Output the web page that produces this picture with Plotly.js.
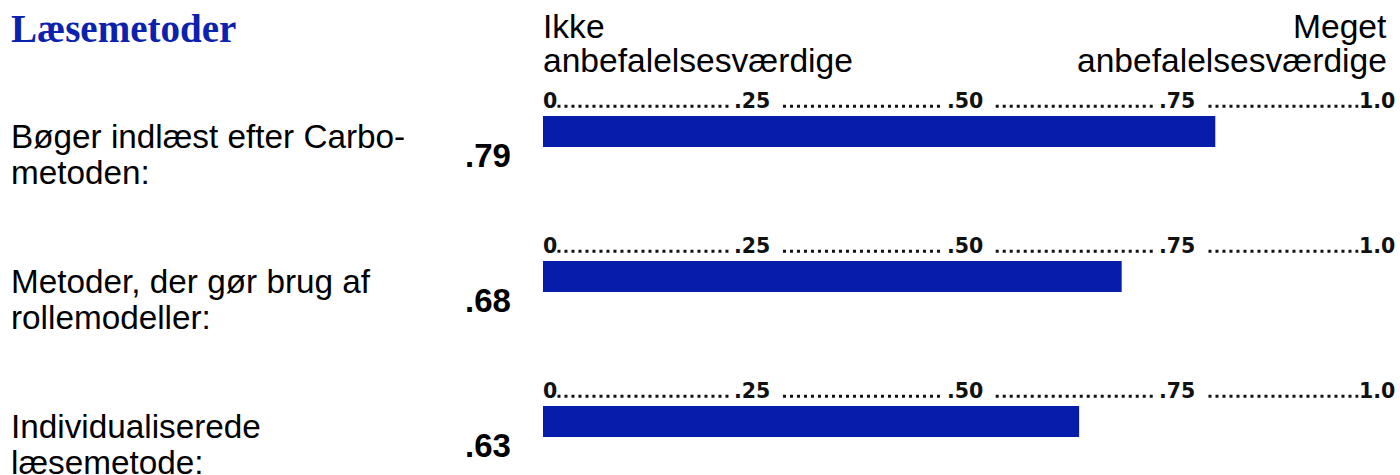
<!DOCTYPE html>
<html><head><meta charset="utf-8">
<script src="https://cdn.plot.ly/plotly-3.0.1.min.js"></script>
<style>html,body{margin:0;padding:0;background:#fff;}#chart{width:1400px;height:475px;}</style>
</head><body><div id="chart"></div>
<script>
// ---- data ----
const chartTitle = 'Læsemetoder';
const categories = ['Bøger indlæst efter Carbo-metoden', 'Metoder, der gør brug af rollemodeller', 'Individualiserede læsemetode'];
const labelLines = [['Bøger indlæst efter Carbo-', 'metoden:'], ['Metoder, der gør brug af', 'rollemodeller:'], ['Individualiserede', 'læsemetode:']];
const values = [0.79, 0.68, 0.63];
const scaleTicks = [0, 0.25, 0.5, 0.75, 1.0];
const scaleLabels = ['0', '.25', '.50', '.75', '1.0'];
const headerLeft = ['Ikke', 'anbefalelsesværdige'];
const headerRight = ['Meget', 'anbefalelsesværdige'];

// ---- layout helpers ----
const W = 1400, H = 475;
const px = x => x / W;
const py = y => 1 - y / H;
const sans = 'Liberation Sans, Arial, sans-serif';
const barColor = '#061dab';
const rowPitch = 145, firstCenter = 131.5;

const annotations = [];
annotations.push({xref:'paper', yref:'paper', x:px(9), y:py(29), xanchor:'left', yanchor:'middle', showarrow:false,
  text:'<b>' + chartTitle + '</b>', font:{family:'Liberation Serif, Times New Roman, serif', size:39, color:'#0b22ae'}});
headerLeft.forEach((t, k) => annotations.push({xref:'paper', yref:'paper', x:px(541), y:py(26.8 + 34*k), xanchor:'left', yanchor:'middle',
  showarrow:false, text:t, font:{family:sans, size:33.6, color:'#000'}}));
headerRight.forEach((t, k) => annotations.push({xref:'paper', yref:'paper', x:px(1389), y:py(26.8 + 34*k), xanchor:'right', yanchor:'middle',
  showarrow:false, text:t, font:{family:sans, size:33.6, color:'#000'}}));

const shapes = [];
categories.forEach((c, i) => {
  labelLines[i].forEach((t, k) => annotations.push({xref:'paper', yref:'y', x:px(9), y:c, xanchor:'left', yanchor:'middle',
    yshift:-5 - 36*k, showarrow:false, text:t, font:{family:sans, size:33.3, color:'#000'}}));
  annotations.push({xref:'paper', yref:'y', x:px(488), y:c, xanchor:'center', yanchor:'middle', yshift:-24, showarrow:false,
    text:'<b>.' + Math.round(values[i]*100) + '</b>', font:{family:sans, size:33, color:'#000'}});
  scaleTicks.forEach((t, k) => annotations.push({xref:'x', yref:'y', x:t, y:c,
    xanchor: k === 0 ? 'left' : (k === scaleTicks.length-1 ? 'right' : 'center'),
    xshift: k === 0 ? -2 : (k === scaleTicks.length-1 ? 3 : -4),
    yanchor:'middle', yshift:31, showarrow:false, text:'<b>' + scaleLabels[k] + '</b>',
    font:{family:'DejaVu Sans, Verdana, sans-serif', size:20.5, color:'#111'}}));
  for (let k = 0; k < scaleTicks.length - 1; k++) {
    const a = scaleTicks[k] + (k === 0 ? 0.017 : 0.032);
    const b = scaleTicks[k+1] - (k === scaleTicks.length-2 ? 0.042 : 0.032);
    shapes.push({type:'line', xref:'x', yref:'y', ysizemode:'pixel', yanchor:i, x0:a, x1:b, y0:25.3, y1:25.3,
      line:{color:'#111', width:3, dash:'3px,4px'}});
  }
});

const data = [{type:'bar', orientation:'h', x:values, y:categories, width:31/rowPitch,
  marker:{color:barColor, line:{width:0}}, hoverinfo:'skip', showlegend:false}];

const layout = {
  width:W, height:H, margin:{l:0, r:0, t:0, b:0}, paper_bgcolor:'#fff', plot_bgcolor:'#fff',
  showlegend:false,
  xaxis:{domain:[543/W, 1394/W], range:[0,1], showgrid:false, zeroline:false, showticklabels:false, ticks:'', showline:false, fixedrange:true},
  yaxis:{type:'category', categoryorder:'array', categoryarray:categories,
    range:[(H - firstCenter)/rowPitch, -firstCenter/rowPitch], autorange:false,
    showgrid:false, zeroline:false, showticklabels:false, ticks:'', showline:false, fixedrange:true},
  annotations:annotations, shapes:shapes
};
Plotly.newPlot('chart', data, layout, {displayModeBar:false, staticPlot:true});
</script></body></html>
